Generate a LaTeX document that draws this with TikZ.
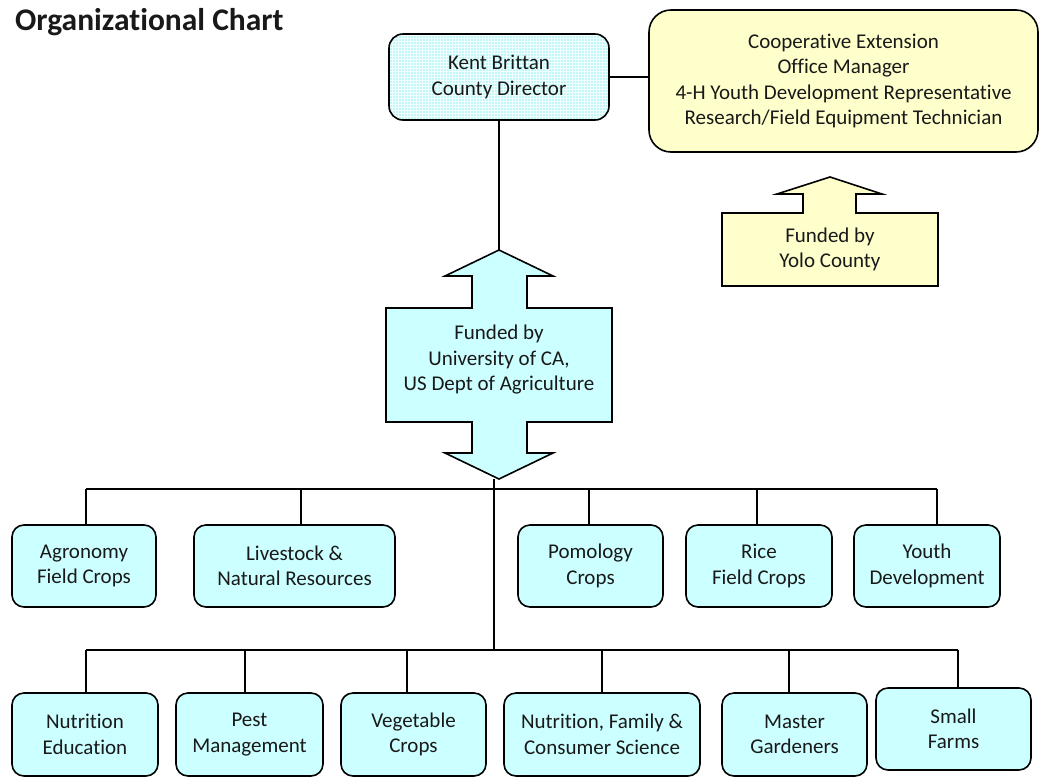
\documentclass[tikz,border=0pt]{standalone}
\usepackage{fontspec}
\setmainfont{Carlito}[Ligatures=NoCommon]
\begin{document}
\begin{tikzpicture}[x=1pt,y=-1pt,
  every node/.style={font=\fontsize{21}{25.5}\selectfont, text=black!90},
  box/.style={draw, line width=1.6pt, rounded corners=12pt, fill=cyanfill,
    align=center, inner sep=0pt, minimum height=82pt},
  link/.style={draw, line width=1.5pt},
  blockarrow/.style={draw, line width=1.6pt, line join=miter},
]
\definecolor{cyanfill}{HTML}{CCFFFF}
\definecolor{yellowfill}{HTML}{FFFFCC}
\definecolor{gridfill}{HTML}{C4F6F6}
\useasboundingbox (0,0) rectangle (1044,780);

% title
\node[anchor=base west, font=\fontsize{31.5}{36}\bfseries\selectfont, inner sep=0pt]
  (title) at (15,30) {Organizational Chart};

% director and county staff
\node[box, fill=gridfill, minimum width=220pt, minimum height=86pt, rounded corners=14pt,
  path picture={\draw[white!70!cyanfill, line width=0.45pt]
    (path picture bounding box.south west) grid[step=3pt]
    (path picture bounding box.north east);}]
  (dir) at (499,77) {Kent Brittan\\County Director};
\node[box, fill=yellowfill, minimum width=389pt, minimum height=142pt,
  rounded corners=22pt]
  (staff) at (843.5,81)
  {Cooperative Extension\\Office Manager\\4-H Youth Development Representative\\Research/Field Equipment Technician};
\draw[link] (dir.east) -- (dir.east -| staff.west);

% county funding (up arrow callout)
\filldraw[blockarrow, fill=yellowfill]
  (830,177) -- (882,194) -- (856,194) -- (856,213) -- (938,213) -- (938,286)
  -- (722,286) -- (722,213) -- (803,213) -- (803,194) -- (777,194) -- cycle;
\node (yolo) at (830,249.5) [align=center] {Funded by\\Yolo County};

% university funding (up-down arrow callout)
\filldraw[blockarrow, fill=cyanfill]
  (499,250) -- (553,276) -- (527,276) -- (527,308) -- (612,308) -- (612,422)
  -- (527,422) -- (527,453) -- (553,453) -- (499,479) -- (445,453) -- (472,453)
  -- (472,422) -- (386,422) -- (386,308) -- (472,308) -- (472,276) -- (445,276)
  -- cycle;
\coordinate (uctop) at (499,250);
\coordinate (ucbot) at (494,479);
\node (uc) at (499,360) [align=center] {Funded by\\University of CA,\\US Dept of Agriculture};
\draw[link] (dir.south) -- (uctop);

% first row of programs
\node[box, minimum width=144pt] (agr) at (84,566) {Agronomy\\Field Crops};
\node[box, minimum width=201pt] (live) at (294.5,566) {Livestock \&\\Natural Resources};
\node[box, minimum width=145pt] (pom) at (590.5,566) {Pomology\\Crops};
\node[box, minimum width=146pt] (rice) at (759,566) {Rice\\Field Crops};
\node[box, minimum width=146pt] (youth) at (927,566) {Youth\\Development};

% second row of programs
\node[box, minimum width=146pt, minimum height=83pt] (nut) at (85,734.5) {Nutrition\\Education};
\node[box, minimum width=147pt, minimum height=83pt] (pest) at (249.5,734.5) {Pest\\Management};
\node[box, minimum width=145pt, minimum height=83pt] (veg) at (413.5,734.5) {Vegetable\\Crops};
\node[box, minimum width=196pt, minimum height=83pt] (nfcs) at (602,734.5) {Nutrition, Family \&\\Consumer Science};
\node[box, minimum width=145pt, minimum height=83pt] (mg) at (794.5,734.5) {Master\\Gardeners};
\node[box, minimum width=155pt, minimum height=82pt] (sf) at (953.5,729) {Small\\Farms};

% bus lines
\coordinate (ua) at (86,489);
\coordinate (ub) at (301,489);
\coordinate (uc1) at (589,489);
\coordinate (ud) at (757,489);
\coordinate (ue) at (937,489);
\coordinate (la) at (86,650);
\coordinate (lb) at (245,650);
\coordinate (lc) at (407,650);
\coordinate (ld) at (602,650);
\coordinate (le) at (789,650);
\coordinate (lf) at (958,650);

\draw[link] (ua) -- (ue);
\draw[link] (la) -- (lf);
\draw[link] (ucbot) -- (ucbot |- la);

\foreach \c/\n in {ua/agr, ub/live, uc1/pom, ud/rice, ue/youth,
                   la/nut, lb/pest, lc/veg, ld/nfcs, le/mg, lf/sf}
  \draw[link] (\c) -- (\c |- \n.north);
\end{tikzpicture}
\end{document}
